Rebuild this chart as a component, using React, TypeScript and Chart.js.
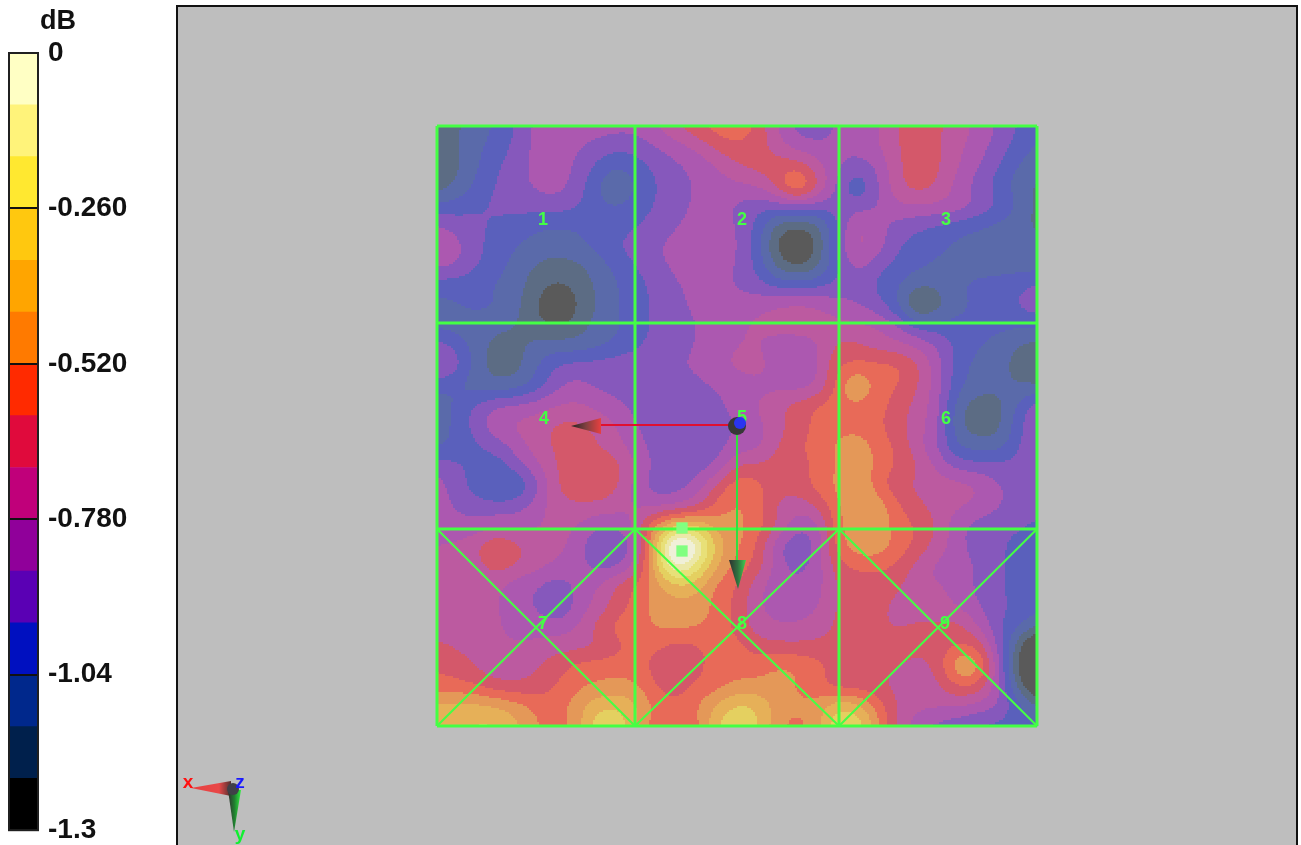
import { useEffect, useRef } from "react";
import { Chart, registerables } from "chart.js";

Chart.register(...registerables);

// Colour bar
const DB_MIN = -1.3;
const BAND_COUNT = 15;
const barColors = ["#000000","#00204c","#00288c","#0010c0","#5a00b4","#90009a","#c0007a","#e00a3c","#ff2a00","#ff7a00","#ffa500","#ffc80f","#ffe830","#fff37a","#ffffc4"];
const surfaceColors = ["#5a5a5a","#5c6c84","#5a6aaa","#5a60bc","#8658bc","#ac58b0","#bc5aa0","#d4586a","#e86a58","#e49858","#e6b058","#e4d060","#e8e078","#ece8a8","#f0f0d8"];
const tickValues = [0, -0.26, -0.52, -0.78, -1.04, -1.3];
const tickLabels = ["0", "-0.260", "-0.520", "-0.780", "-1.04", "-1.3"];

// Response at 31 x 31 nodes; tenths of a colour band above -1.3 dB
const fieldRows = [
[10,19,25,31,41,53,62,59,56,54,54,61,70,80,85,90,78,60,45,43,52,55,58,70,75,72,66,58,49,40,34],
[10,20,28,34,43,54,56,51,46,43,44,51,56,62,74,78,76,64,54,52,51,53,59,70,76,72,63,55,47,36,28],
[10,18,29,39,46,54,57,48,38,30,36,42,48,53,59,70,74,76,78,64,52,46,50,68,77,73,61,51,41,30,24],
[13,21,33,41,47,52,55,46,30,15,32,40,46,51,55,57,60,74,104,74,48,25,48,68,76,70,56,46,36,25,17],
[32,35,39,42,44,45,46,41,34,30,35,41,47,52,54,48,42,44,46,44,45,46,49,59,60,59,58,50,41,31,16],
[51,46,42,38,35,30,29,30,33,36,40,44,50,53,55,50,38,13,10,14,38,64,54,46,41,38,33,30,27,23,17],
[66,53,43,34,30,27,26,28,34,41,44,50,54,56,57,52,35,8,-12,9,44,66,58,40,36,32,28,26,25,25,25],
[52,51,41,33,27,18,14,17,24,33,41,47,53,55,54,50,38,15,8,16,37,56,42,37,33,28,27,26,25,25,24],
[34,32,31,29,24,13,8,12,22,29,36,43,49,53,53,49,44,38,36,38,43,44,38,31,20,21,29,33,35,38,44],
[26,30,34,31,23,9,-4,9,21,30,36,43,48,52,54,55,58,62,65,62,55,52,44,32,0,14,27,31,34,41,47],
[25,24,23,22,20,13,8,14,24,28,36,42,46,50,53,59,62,64,65,65,63,62,61,52,37,35,34,33,33,32,32],
[48,38,24,16,17,24,25,24,27,32,38,44,48,50,56,60,60,55,54,57,73,72,65,63,60,50,38,31,27,18,15],
[56,46,24,14,15,30,42,45,46,48,48,49,50,51,58,63,66,55,48,58,80,83,85,84,74,55,35,26,23,17,12],
[32,29,23,22,24,34,48,54,47,46,46,46,47,48,50,53,56,57,54,58,83,108,84,81,72,55,33,26,23,20,18],
[25,31,44,52,54,56,61,62,58,52,47,44,37,44,49,52,62,68,76,82,87,86,84,76,66,55,24,12,15,31,50],
[24,33,46,60,63,66,73,74,68,60,49,46,44,44,46,50,56,66,74,83,86,84,82,74,65,54,22,12,14,36,51],
[27,32,38,44,55,66,72,77,70,64,53,46,43,43,45,54,55,70,78,85,92,100,86,79,63,50,28,26,24,37,52],
[48,42,37,33,46,58,71,76,78,76,58,47,44,44,50,72,72,75,76,81,90,102,86,80,72,58,46,44,43,45,50],
[55,46,32,25,28,44,72,78,79,72,54,43,45,53,74,90,84,75,74,85,92,103,83,72,67,66,66,63,52,45,44],
[52,50,46,44,46,56,66,68,68,65,58,56,57,66,84,92,85,66,64,70,88,102,100,82,72,66,62,58,52,46,43],
[52,52,52,58,56,58,64,60,50,50,65,95,115,112,95,94,86,72,52,52,88,98,97,86,80,70,52,45,43,42,38],
[61,63,70,84,74,66,64,56,38,36,54,115,175,150,105,92,80,50,38,50,86,98,97,88,78,66,55,44,43,36,33],
[63,64,66,76,70,64,58,54,46,46,63,110,150,125,100,86,78,55,46,54,75,82,84,78,66,56,54,50,42,37,33],
[65,65,64,62,52,50,42,53,60,74,83,96,106,105,86,80,62,53,52,54,72,74,73,72,63,61,59,47,42,36,33],
[65,65,64,62,52,50,36,53,62,74,83,94,97,95,87,77,63,52,51,58,72,74,72,68,65,63,58,51,43,38,34],
[65,66,64,62,54,55,54,59,75,85,88,92,94,92,87,76,64,62,62,66,72,72,72,68,72,72,76,60,42,33,22],
[72,68,66,63,62,63,66,66,68,76,84,82,74,78,84,85,74,72,71,72,72,72,72,75,74,72,80,80,50,14,-15],
[80,76,68,62,62,70,76,84,86,85,85,74,73,76,85,85,86,92,92,85,76,72,72,71,65,72,104,104,56,8,-25],
[82,82,80,72,72,72,81,87,91,93,92,78,73,82,85,92,92,93,89,83,72,72,72,66,64,66,80,80,55,18,-10],
[105,105,104,102,95,88,85,96,108,110,103,86,84,90,103,114,112,95,92,93,112,108,88,69,64,62,62,56,52,36,20],
[108,108,112,112,103,90,84,94,118,122,96,84,82,84,112,120,112,92,85,95,120,120,94,68,52,46,41,38,36,34,33],
];

// Element mesh, in the 0-600 field units
const meshX = [0, 198, 402, 600];
const meshY = [0, 197, 403, 600];
const elementLabels = ["1", "2", "3", "4", "5", "6", "7", "8", "9"];
const labelX = [106, 305, 509, 107, 305, 509, 106, 305, 508];
const labelY = [94, 94, 94, 293, 292, 293, 498, 498, 498];
const markerX = [245, 245];
const markerY = [402, 425];

const BAND = (0 - DB_MIN) / BAND_COUNT;
const NODE = 20;
const CANVAS_LEFT = 178;
const CANVAS_TOP = 7;
const GREEN = "#44ff44";

// Cubic B-spline: draws the smooth contour surface through the nodes' neighbourhood
function spline(a: number, b: number, c: number, d: number, t: number) {
  const t2 = t * t;
  const t3 = t2 * t;
  return ((1 - 3 * t + 3 * t2 - t3) * a + (4 - 6 * t2 + 3 * t3) * b + (1 + 3 * t + 3 * t2 - 3 * t3) * c + t3 * d) / 6;
}

const contourPlugin = {
  id: "contour",
  beforeDatasetsDraw(chart: any) {
    const { ctx, scales } = chart;
    const nodes = chart.data.datasets[0].data as { x: number; y: number; v: number }[];
    const n = fieldRows.length;
    const at = (c: number, r: number) => {
      const rr = Math.max(0, Math.min(n - 1, r));
      const cc = Math.max(0, Math.min(n - 1, c));
      return nodes[rr * n + cc].v;
    };
    const step = 2;
    ctx.save();
    for (let w = 0; w < 600; w += step) {
      const fy = (w + 1) / NODE;
      const r = Math.floor(fy);
      const ty = fy - r;
      const y0 = scales.y.getPixelForValue(w);
      for (let u = 0; u < 600; u += step) {
        const fx = (u + 1) / NODE;
        const c = Math.floor(fx);
        const tx = fx - c;
        const col = [-1, 0, 1, 2].map((k) =>
          spline(at(c - 1, r + k), at(c, r + k), at(c + 1, r + k), at(c + 2, r + k), tx)
        );
        const v = spline(col[0], col[1], col[2], col[3], ty);
        const band = Math.max(0, Math.min(BAND_COUNT - 1, Math.floor((v - DB_MIN) / BAND)));
        ctx.fillStyle = surfaceColors[band];
        ctx.fillRect(scales.x.getPixelForValue(u), y0, step + 0.5, step + 0.5);
      }
    }
    ctx.restore();
  },
};

function cone(ctx: any, tip: number[], b1: number[], b2: number[], stops: [number, string][], g: number[]) {
  const grad = ctx.createLinearGradient(g[0], g[1], g[2], g[3]);
  stops.forEach(([o, c]) => grad.addColorStop(o, c));
  ctx.fillStyle = grad;
  ctx.beginPath();
  ctx.moveTo(tip[0], tip[1]);
  ctx.lineTo(b1[0], b1[1]);
  ctx.lineTo(b2[0], b2[1]);
  ctx.closePath();
  ctx.fill();
}

const overlayPlugin = {
  id: "overlay",
  afterDatasetsDraw(chart: any) {
    const { ctx, scales } = chart;
    const X = (x: number) => x - CANVAS_LEFT;
    const Y = (y: number) => y - CANVAS_TOP;
    ctx.save();
    ctx.fillStyle = GREEN;
    ctx.font = "bold 18px 'Liberation Sans'";
    ctx.textAlign = "center";
    ctx.textBaseline = "middle";
    elementLabels.forEach((t, i) => {
      ctx.fillText(t, scales.x.getPixelForValue(labelX[i]), scales.y.getPixelForValue(labelY[i]));
    });

    // global axes at the driving point
    ctx.strokeStyle = "#e01030";
    ctx.lineWidth = 2;
    ctx.beginPath();
    ctx.moveTo(X(737), Y(425));
    ctx.lineTo(X(600), Y(425));
    ctx.stroke();
    cone(ctx, [X(571), Y(426)], [X(601), Y(418)], [X(601), Y(434)],
      [[0, "#222222"], [0.5, "#804040"], [1, "#e84040"]], [X(571), 0, X(601), 0]);
    ctx.strokeStyle = "#30e040";
    ctx.beginPath();
    ctx.moveTo(X(737), Y(425));
    ctx.lineTo(X(737), Y(562));
    ctx.stroke();
    cone(ctx, [X(738), Y(589)], [X(729), Y(560)], [X(746), Y(560)],
      [[0, "#303030"], [0.5, "#307040"], [1, "#40d050"]], [X(729), 0, X(746), 0]);
    ctx.fillStyle = "#383838";
    ctx.beginPath();
    ctx.arc(X(737), Y(426), 9, 0, Math.PI * 2);
    ctx.fill();
    ctx.fillStyle = "#2a34f0";
    ctx.beginPath();
    ctx.arc(X(740), Y(423), 6, 0, Math.PI * 2);
    ctx.fill();
    ctx.restore();
  },
};

const triadPlugin = {
  id: "triad",
  afterDraw(chart: any) {
    const { ctx } = chart;
    const X = (x: number) => x - CANVAS_LEFT;
    const Y = (y: number) => y - CANVAS_TOP;
    ctx.save();
    cone(ctx, [X(191), Y(788)], [X(231), Y(781)], [X(231), Y(796)],
      [[0, "#e84040"], [0.7, "#e84848"], [1, "#503030"]], [X(191), 0, X(231), 0]);
    cone(ctx, [X(234), Y(832)], [X(228), Y(790)], [X(241), Y(790)],
      [[0, "#303030"], [0.5, "#208030"], [1, "#30f040"]], [X(228), 0, X(241), 0]);
    ctx.fillStyle = "#404048";
    ctx.beginPath();
    ctx.arc(X(233), Y(789), 6, 0, Math.PI * 2);
    ctx.fill();
    ctx.font = "bold 19px 'Liberation Sans'";
    ctx.textAlign = "center";
    ctx.textBaseline = "middle";
    ctx.fillStyle = "#ff1010";
    ctx.fillText("x", X(188), Y(783));
    ctx.fillStyle = "#1818ff";
    ctx.fillText("z", X(240), Y(783));
    ctx.fillStyle = "#10f030";
    ctx.fillText("y", X(240), Y(835));
    ctx.restore();
  },
};

const colorBarPlugin = {
  id: "colorBarFrame",
  afterDraw(chart: any) {
    const { ctx, chartArea: a } = chart;
    ctx.save();
    ctx.strokeStyle = "#202020";
    ctx.lineWidth = 2;
    ctx.strokeRect(a.left, a.top, a.right - a.left, a.bottom - a.top);
    ctx.fillStyle = "#111111";
    ctx.font = "bold 27px 'Liberation Sans'";
    ctx.textAlign = "center";
    ctx.textBaseline = "middle";
    ctx.fillText("dB", 58, 22);
    ctx.restore();
  },
};

export default function App() {
  const barRef = useRef<HTMLCanvasElement>(null);
  const mainRef = useRef<HTMLCanvasElement>(null);

  useEffect(() => {
    document.body.style.margin = "0";
    document.body.style.background = "#ffffff";
    document.body.style.overflow = "hidden";

    const bandSets = barColors.map((color, i) => ({
      label: `band ${i}`,
      data: [[DB_MIN + i * BAND, DB_MIN + (i + 1) * BAND]],
      backgroundColor: color,
      borderWidth: 0,
      grouped: false,
      barPercentage: 1,
      categoryPercentage: 1,
      order: 2,
    }));

    const barChart = new Chart(barRef.current as HTMLCanvasElement, {
      type: "bar",
      data: { labels: ["dB"], datasets: bandSets as any },
      options: {
        responsive: false,
        animation: false,
        devicePixelRatio: 1,
        layout: { padding: { left: 9, top: 53, bottom: 4, right: 0 } },
        plugins: { legend: { display: false }, tooltip: { enabled: false } },
        scales: {
          x: { display: false },
          y: {
            position: "right",
            min: DB_MIN,
            max: 0,
            afterBuildTicks: (s: any) => {
              s.ticks = tickValues.map((value) => ({ value }));
            },
            afterFit: (s: any) => {
              s.width = 132;
            },
            grid: { color: "#111111", lineWidth: 2, drawTicks: false, z: 1 },
            border: { display: false },
            ticks: {
              autoSkip: false,
              padding: 10,
              color: "#111111",
              font: { family: "'Liberation Sans'", size: 28, weight: "bold" },
              callback: (v: any) => tickLabels[tickValues.findIndex((t) => Math.abs(t - Number(v)) < 1e-6)],
            },
          },
        },
      },
      plugins: [colorBarPlugin],
    } as any);

    const nodes: { x: number; y: number; v: number }[] = [];
    fieldRows.forEach((row, r) =>
      row.forEach((lv, c) => nodes.push({ x: c * NODE, y: r * NODE, v: DB_MIN + (lv / 10) * BAND }))
    );

    const seg = (x1: number, y1: number, x2: number, y2: number, w: number) => ({
      data: [{ x: x1, y: y1 }, { x: x2, y: y2 }],
      showLine: true,
      borderColor: GREEN,
      borderWidth: w,
      pointRadius: 0,
      clip: false,
    });
    const mesh: any[] = [];
    meshX.forEach((x) => mesh.push(seg(x, 0, x, 600, 3)));
    meshY.forEach((y) => mesh.push(seg(0, y, 600, y, 3)));
    for (let i = 0; i < 3; i++) {
      mesh.push(seg(meshX[i], meshY[2], meshX[i + 1], meshY[3], 2));
      mesh.push(seg(meshX[i + 1], meshY[2], meshX[i], meshY[3], 2));
    }

    const mainChart = new Chart(mainRef.current as HTMLCanvasElement, {
      type: "scatter",
      data: {
        datasets: [
          { label: "Response (dB)", data: nodes, pointRadius: 0 },
          ...mesh,
          {
            label: "markers",
            data: markerX.map((x, i) => ({ x, y: markerY[i] })),
            pointStyle: "rect",
            pointRadius: 8,
            backgroundColor: "#80ff80",
            borderWidth: 0,
            clip: false,
            order: -1,
          },
        ],
      },
      options: {
        responsive: false,
        animation: false,
        devicePixelRatio: 1,
        layout: { padding: { left: 259, right: 260, top: 119, bottom: 119 } },
        plugins: { legend: { display: false }, tooltip: { enabled: false } },
        scales: {
          x: { type: "linear", min: 0, max: 600, display: false },
          y: { type: "linear", min: 0, max: 600, reverse: true, display: false },
        },
      },
      plugins: [contourPlugin, overlayPlugin, triadPlugin],
    } as any);

    return () => {
      barChart.destroy();
      mainChart.destroy();
    };
  }, []);

  return (
    <div style={{ position: "relative", width: 1301, height: 845, overflow: "hidden", background: "#fff" }}>
      <canvas ref={barRef} width={170} height={857} style={{ position: "absolute", left: 0, top: 0 }} />
      <div
        style={{
          position: "absolute",
          left: 176,
          top: 5,
          width: 1118,
          height: 860,
          background: "#bebebe",
          border: "2px solid #111",
          boxSizing: "content-box",
        }}
      />
      <canvas ref={mainRef} width={1119} height={838} style={{ position: "absolute", left: CANVAS_LEFT, top: CANVAS_TOP }} />
    </div>
  );
}
